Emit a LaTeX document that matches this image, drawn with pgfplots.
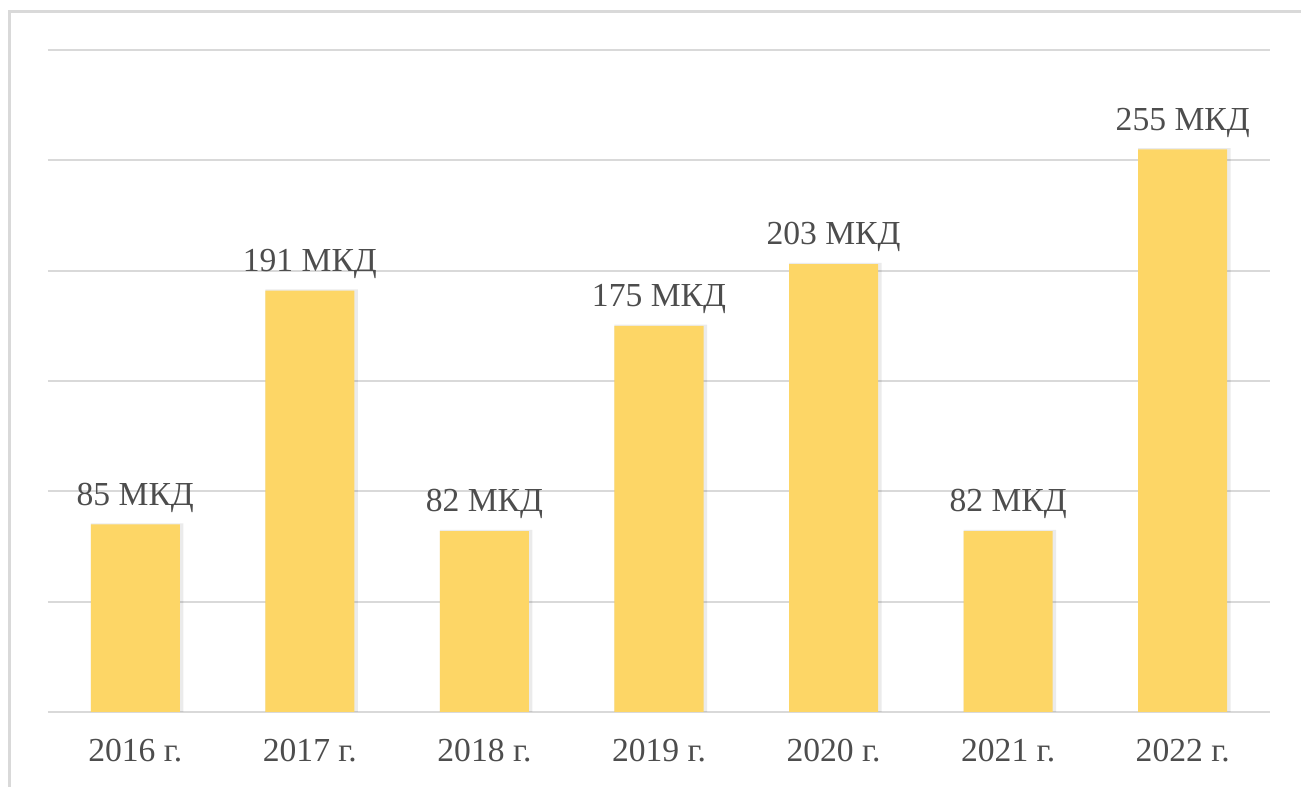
\documentclass[border=0pt]{standalone}
\usepackage{pgfplots}
\pgfplotsset{compat=1.18}
\usepackage{fontspec}
\setmainfont{Liberation Serif}
\definecolor{barc}{HTML}{FDD666}
\definecolor{gridc}{HTML}{D9D9D9}
\definecolor{txt}{HTML}{4D4D4D}
\begin{document}
\begin{tikzpicture}[x=0.5pt,y=0.5pt]
\useasboundingbox (0,0) rectangle (1301,787);
\clip (0,0) rectangle (1301,787);
\draw[gridc, line width=1.5pt] (9,-20) -- (9,775.5) -- (1320,775.5);
\begin{axis}[
  at={(24pt,37.5pt)}, anchor=south west,
  width=611pt, height=331pt, scale only axis,
  xmin=-0.5, xmax=6.5, ymin=0, ymax=300,
  ytick={0,50,100,150,200,250,300},
  yticklabels={},
  ymajorgrids, grid style={gridc, line width=1pt},
  xtick={0,1,2,3,4,5,6},
  xticklabels={2016 г.,2017 г.,2018 г.,2019 г.,2020 г.,2021 г.,2022 г.},
  xticklabel style={font=\fontsize{16.8}{19}\selectfont, text=txt, yshift=-10pt},
  major tick length=0pt,
  axis x line*=bottom, axis y line*=left,
  x axis line style={gridc, line width=1pt, -},
  y axis line style={draw=none},
  /pgf/number format/assume math mode=true,
  ybar, bar width=0.51,
  clip=false,
]
\addplot[ybar, bar shift=0.01, bar width=0.53, fill=black, draw=none, fill opacity=0.08]
  coordinates {(0,85.5) (1,191.5) (2,82.5) (3,175.5) (4,203.5) (5,82.5) (6,255.5)};
\addplot[ybar, bar shift=0, fill=barc, draw=none,
  nodes near coords={\pgfmathprintnumber{\pgfplotspointmeta}~МКД},
  every node near coord/.append style={font=\fontsize{16.8}{19}\selectfont, text=txt, yshift=2.5pt}]
  coordinates {(0,85) (1,191) (2,82) (3,175) (4,203) (5,82) (6,255)};
\end{axis}
\end{tikzpicture}
\end{document}
